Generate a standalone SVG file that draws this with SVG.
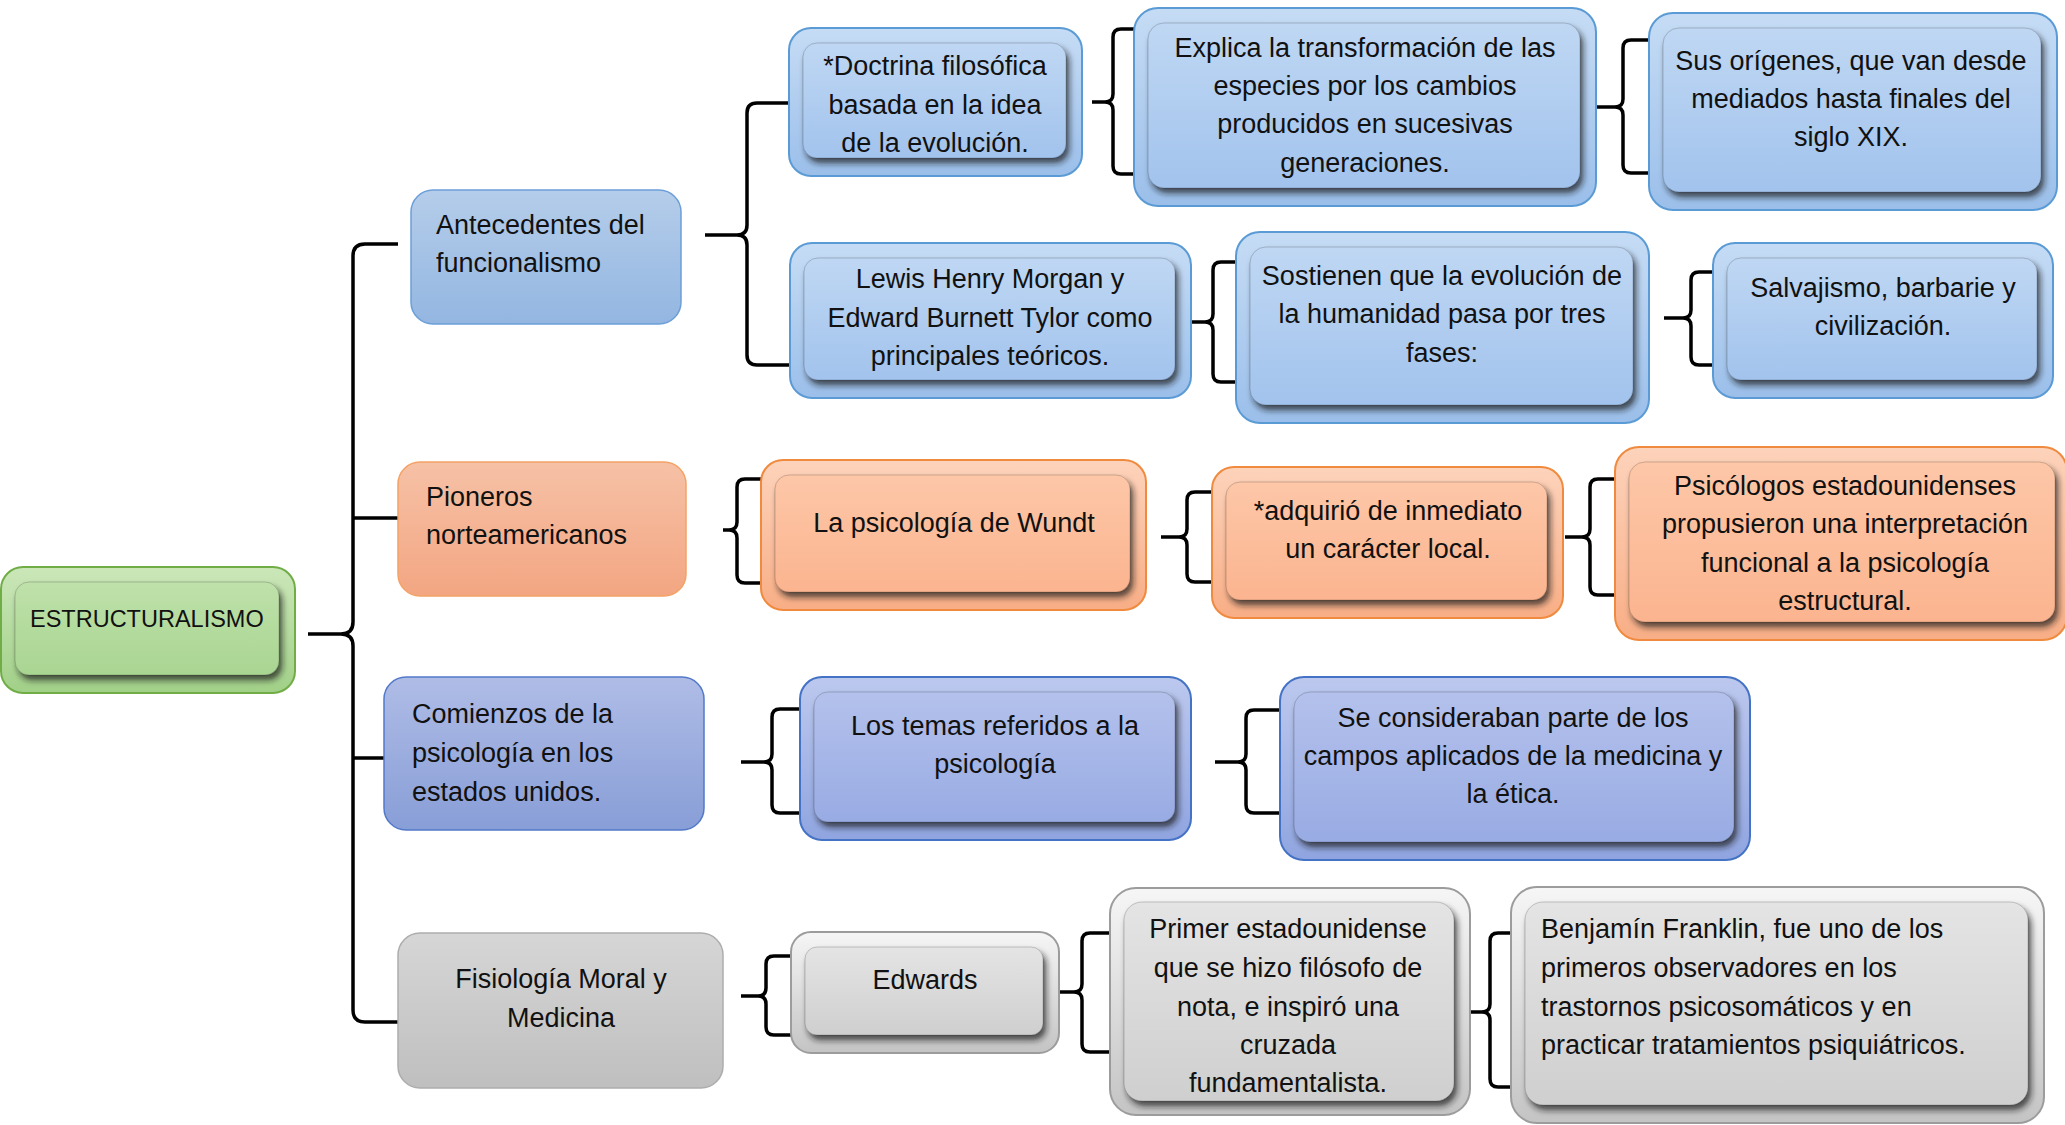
<svg xmlns="http://www.w3.org/2000/svg" width="2065" height="1125" viewBox="0 0 2065 1125">
<defs>
<linearGradient id="gBlueO" x1="0" y1="0" x2="0" y2="1"><stop offset="0" stop-color="#c6dcf5"/><stop offset="1" stop-color="#9bbfea"/></linearGradient>
<linearGradient id="gBlueI" x1="0" y1="0" x2="0" y2="1"><stop offset="0" stop-color="#bfd7f3"/><stop offset="1" stop-color="#a2c3ed"/></linearGradient>
<linearGradient id="gOrO" x1="0" y1="0" x2="0" y2="1"><stop offset="0" stop-color="#fdd3bb"/><stop offset="1" stop-color="#f8ae86"/></linearGradient>
<linearGradient id="gOrI" x1="0" y1="0" x2="0" y2="1"><stop offset="0" stop-color="#fdc7a8"/><stop offset="1" stop-color="#fbb48f"/></linearGradient>
<linearGradient id="gPuO" x1="0" y1="0" x2="0" y2="1"><stop offset="0" stop-color="#bcc8ee"/><stop offset="1" stop-color="#90a5e0"/></linearGradient>
<linearGradient id="gPuI" x1="0" y1="0" x2="0" y2="1"><stop offset="0" stop-color="#b4c1ec"/><stop offset="1" stop-color="#98abe3"/></linearGradient>
<linearGradient id="gGrO" x1="0" y1="0" x2="0" y2="1"><stop offset="0" stop-color="#f6f6f6"/><stop offset="1" stop-color="#c4c4c4"/></linearGradient>
<linearGradient id="gGrI" x1="0" y1="0" x2="0" y2="1"><stop offset="0" stop-color="#e4e4e4"/><stop offset="1" stop-color="#cfcfcf"/></linearGradient>
<linearGradient id="gGnO" x1="0" y1="0" x2="0" y2="1"><stop offset="0" stop-color="#cbe7b9"/><stop offset="1" stop-color="#a1d088"/></linearGradient>
<linearGradient id="gGnI" x1="0" y1="0" x2="0" y2="1"><stop offset="0" stop-color="#bfe1aa"/><stop offset="1" stop-color="#a9d592"/></linearGradient>
<linearGradient id="fBlue" x1="0" y1="0" x2="0" y2="1"><stop offset="0" stop-color="#b5cdea"/><stop offset="1" stop-color="#93b6e1"/></linearGradient>
<linearGradient id="fOr" x1="0" y1="0" x2="0" y2="1"><stop offset="0" stop-color="#f6c1a6"/><stop offset="1" stop-color="#f3a682"/></linearGradient>
<linearGradient id="fPu" x1="0" y1="0" x2="0" y2="1"><stop offset="0" stop-color="#afbce6"/><stop offset="1" stop-color="#889ed7"/></linearGradient>
<linearGradient id="fGr" x1="0" y1="0" x2="0" y2="1"><stop offset="0" stop-color="#d6d6d6"/><stop offset="1" stop-color="#bfbfbf"/></linearGradient>
<filter id="bev" x="-10%" y="-10%" width="125%" height="135%"><feDropShadow dx="3" dy="5" stdDeviation="3" flood-color="#1a1a1a" flood-opacity="0.75"/></filter>
</defs>
<style>
.o{stroke-width:2}
.i{stroke:rgba(0,0,0,0.18);stroke-width:1;filter:url(#bev)}
.blue .o{fill:url(#gBlueO);stroke:#5b9bd5}
.blue .i{fill:url(#gBlueI)}
.orange .o{fill:url(#gOrO);stroke:#f08a3e}
.orange .i{fill:url(#gOrI)}
.purple .o{fill:url(#gPuO);stroke:#4472c4}
.purple .i{fill:url(#gPuI)}
.gray .o{fill:url(#gGrO);stroke:#9c9c9c}
.gray .i{fill:url(#gGrI)}
.green .o{fill:url(#gGnO);stroke:#70ad47}
.green .i{fill:url(#gGnI)}
.flat{stroke-width:1.5}
.fblue{fill:url(#fBlue);stroke:#6c9fd9}
.forange{fill:url(#fOr);stroke:#f4a266}
.fpurple{fill:url(#fPu);stroke:#5379c9}
.fgray{fill:url(#fGr);stroke:#adadad}
text{font-family:"Liberation Sans",Arial,sans-serif;font-size:27px;fill:#111}
.c{text-anchor:middle}
.br{fill:none;stroke:#000;stroke-width:3.5;stroke-linecap:butt;stroke-linejoin:round}
</style>

<g id="connectors" class="br">
<path d="M398,244 H365 Q353,244 353,256 V622 Q353,634 341,634 H308 M341,634 Q353,634 353,646 V1010 Q353,1022 365,1022 H398"/>
<path d="M353,518 H398 M353,758 H398"/>
<path d="M790,103 H757 Q747,103 747,113 V225 Q747,235 737,235 H705 M737,235 Q747,235 747,245 V355 Q747,365 757,365 H790"/>
<path d="M1134,29 H1121 Q1113,29 1113,37 V94 Q1113,102 1105,102 H1092 M1105,102 Q1113,102 1113,110 V166 Q1113,174 1121,174 H1134"/>
<path d="M1649,40 H1631 Q1623,40 1623,48 V99 Q1623,107 1615,107 H1597 M1615,107 Q1623,107 1623,115 V165 Q1623,173 1631,173 H1649"/>
<path d="M1236,262 H1221 Q1213,262 1213,270 V314 Q1213,322 1205,322 H1192 M1205,322 Q1213,322 1213,330 V374 Q1213,382 1221,382 H1236"/>
<path d="M1713,272 H1699 Q1691,272 1691,280 V310 Q1691,318 1683,318 H1664 M1683,318 Q1691,318 1691,326 V357 Q1691,365 1699,365 H1713"/>
<path d="M761,479 H745 Q737,479 737,487 V522 Q737,530 729,530 H723 M729,530 Q737,530 737,538 V575 Q737,583 745,583 H761"/>
<path d="M1212,492 H1195 Q1187,492 1187,500 V529 Q1187,537 1179,537 H1161 M1179,537 Q1187,537 1187,545 V574 Q1187,582 1195,582 H1212"/>
<path d="M1615,479 H1598 Q1590,479 1590,487 V529 Q1590,537 1582,537 H1565 M1582,537 Q1590,537 1590,545 V587 Q1590,595 1598,595 H1615"/>
<path d="M800,709 H780 Q772,709 772,717 V754 Q772,762 764,762 H741 M764,762 Q772,762 772,770 V805 Q772,813 780,813 H800"/>
<path d="M1280,710 H1254 Q1246,710 1246,718 V754 Q1246,762 1238,762 H1215 M1238,762 Q1246,762 1246,770 V805 Q1246,813 1254,813 H1280"/>
<path d="M791,956 H774 Q766,956 766,964 V988 Q766,996 758,996 H741 M758,996 Q766,996 766,1004 V1027 Q766,1035 774,1035 H791"/>
<path d="M1110,933 H1090 Q1082,933 1082,941 V984 Q1082,992 1074,992 H1059 M1074,992 Q1082,992 1082,1000 V1044 Q1082,1052 1090,1052 H1110"/>
<path d="M1511,933 H1498 Q1490,933 1490,941 V1004 Q1490,1012 1482,1012 H1469 M1482,1012 Q1490,1012 1490,1020 V1079 Q1490,1087 1498,1087 H1511"/>
</g>

<g id="n-estructuralismo" class="green">
<rect class="o" x="1" y="567" width="294" height="126" rx="22"/>
<rect class="i" x="15" y="582" width="264" height="93" rx="14"/>
<text x="30" y="627" style="font-size:23.5px">ESTRUCTURALISMO</text>
</g>

<g id="n-antecedentes">
<rect class="flat fblue" x="411" y="190" width="270" height="134" rx="22"/>
<text x="436" y="234">Antecedentes del</text>
<text x="436" y="272">funcionalismo</text>
</g>

<g id="n-pioneros">
<rect class="flat forange" x="398" y="462" width="288" height="134" rx="22"/>
<text x="426" y="506">Pioneros</text>
<text x="426" y="544">norteamericanos</text>
</g>

<g id="n-comienzos">
<rect class="flat fpurple" x="384" y="677" width="320" height="153" rx="22"/>
<text x="412" y="723">Comienzos de la</text>
<text x="412" y="762">psicología en los</text>
<text x="412" y="801">estados unidos.</text>
</g>

<g id="n-fisiologia">
<rect class="flat fgray" x="398" y="933" width="325" height="155" rx="22"/>
<text class="c" x="561" y="988">Fisiología Moral y</text>
<text class="c" x="561" y="1027">Medicina</text>
</g>

<g id="n-doctrina" class="blue">
<rect class="o" x="789" y="28" width="293" height="148" rx="22"/>
<rect class="i" x="803" y="43" width="263" height="115" rx="14"/>
<text class="c" x="935" y="75">*Doctrina filosófica</text>
<text class="c" x="935" y="114">basada en la idea</text>
<text class="c" x="935" y="152">de la evolución.</text>
</g>

<g id="n-lewis" class="blue">
<rect class="o" x="790" y="243" width="401" height="155" rx="22"/>
<rect class="i" x="804" y="258" width="371" height="122" rx="14"/>
<text class="c" x="990" y="288">Lewis Henry Morgan y</text>
<text class="c" x="990" y="327">Edward Burnett Tylor como</text>
<text class="c" x="990" y="365">principales teóricos.</text>
</g>

<g id="n-explica" class="blue">
<rect class="o" x="1134" y="8" width="462" height="198" rx="24"/>
<rect class="i" x="1148" y="23" width="432" height="165" rx="16"/>
<text class="c" x="1365" y="57">Explica la transformación de las</text>
<text class="c" x="1365" y="95">especies por los cambios</text>
<text class="c" x="1365" y="133">producidos en sucesivas</text>
<text class="c" x="1365" y="172">generaciones.</text>
</g>

<g id="n-origenes" class="blue">
<rect class="o" x="1649" y="13" width="408" height="197" rx="24"/>
<rect class="i" x="1663" y="28" width="378" height="164" rx="16"/>
<text class="c" x="1851" y="70">Sus orígenes, que van desde</text>
<text class="c" x="1851" y="108">mediados hasta finales del</text>
<text class="c" x="1851" y="146">siglo XIX.</text>
</g>

<g id="n-sostienen" class="blue">
<rect class="o" x="1236" y="232" width="413" height="191" rx="24"/>
<rect class="i" x="1250" y="247" width="383" height="158" rx="16"/>
<text class="c" x="1442" y="285">Sostienen que la evolución de</text>
<text class="c" x="1442" y="323">la humanidad pasa por tres</text>
<text class="c" x="1442" y="362">fases:</text>
</g>

<g id="n-salvajismo" class="blue">
<rect class="o" x="1713" y="243" width="340" height="155" rx="22"/>
<rect class="i" x="1727" y="258" width="310" height="122" rx="14"/>
<text class="c" x="1883" y="297">Salvajismo, barbarie y</text>
<text class="c" x="1883" y="335">civilización.</text>
</g>

<g id="n-wundt" class="orange">
<rect class="o" x="761" y="460" width="385" height="150" rx="22"/>
<rect class="i" x="775" y="475" width="355" height="117" rx="14"/>
<text class="c" x="954" y="532">La psicología de Wundt</text>
</g>

<g id="n-adquirio" class="orange">
<rect class="o" x="1212" y="467" width="351" height="151" rx="22"/>
<rect class="i" x="1226" y="482" width="321" height="118" rx="14"/>
<text class="c" x="1388" y="520">*adquirió de inmediato</text>
<text class="c" x="1388" y="558">un carácter local.</text>
</g>

<g id="n-psicologos" class="orange">
<rect class="o" x="1615" y="447" width="452" height="193" rx="24"/>
<rect class="i" x="1629" y="462" width="426" height="160" rx="16"/>
<text class="c" x="1845" y="495">Psicólogos estadounidenses</text>
<text class="c" x="1845" y="533">propusieron una interpretación</text>
<text class="c" x="1845" y="572">funcional a la psicología</text>
<text class="c" x="1845" y="610">estructural.</text>
</g>

<g id="n-temas" class="purple">
<rect class="o" x="800" y="677" width="391" height="163" rx="22"/>
<rect class="i" x="814" y="692" width="361" height="130" rx="14"/>
<text class="c" x="995" y="735">Los temas referidos a la</text>
<text class="c" x="995" y="773">psicología</text>
</g>

<g id="n-consideraban" class="purple">
<rect class="o" x="1280" y="677" width="470" height="183" rx="24"/>
<rect class="i" x="1294" y="692" width="440" height="150" rx="16"/>
<text class="c" x="1513" y="727">Se consideraban parte de los</text>
<text class="c" x="1513" y="765">campos aplicados de la medicina y</text>
<text class="c" x="1513" y="803">la ética.</text>
</g>

<g id="n-edwards" class="gray">
<rect class="o" x="791" y="932" width="268" height="121" rx="20"/>
<rect class="i" x="805" y="947" width="238" height="88" rx="12"/>
<text class="c" x="925" y="989">Edwards</text>
</g>

<g id="n-primer" class="gray">
<rect class="o" x="1110" y="888" width="360" height="227" rx="26"/>
<rect class="i" x="1124" y="902" width="330" height="199" rx="18"/>
<text class="c" x="1288" y="938">Primer estadounidense</text>
<text class="c" x="1288" y="977">que se hizo filósofo de</text>
<text class="c" x="1288" y="1016">nota, e inspiró una</text>
<text class="c" x="1288" y="1054">cruzada</text>
<text class="c" x="1288" y="1092">fundamentalista.</text>
</g>

<g id="n-benjamin" class="gray">
<rect class="o" x="1511" y="887" width="533" height="236" rx="26"/>
<rect class="i" x="1525" y="902" width="503" height="203" rx="18"/>
<text x="1541" y="938">Benjamín Franklin, fue uno de los</text>
<text x="1541" y="977">primeros observadores en los</text>
<text x="1541" y="1016">trastornos psicosomáticos y en</text>
<text x="1541" y="1054">practicar tratamientos psiquiátricos.</text>
</g>
</svg>
